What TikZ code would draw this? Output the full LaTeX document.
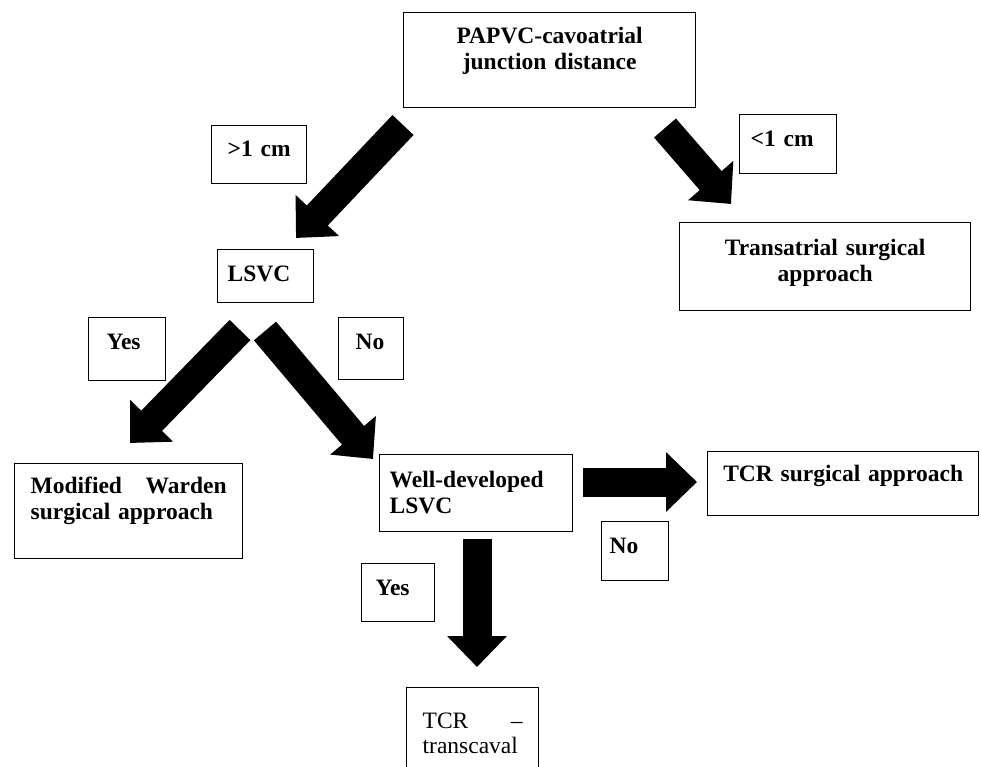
\documentclass[tikz,border=0pt]{standalone}
\usepackage{fontspec}
\setmainfont{Liberation Serif}
\usetikzlibrary{arrows.meta}

\begin{document}
\begin{tikzpicture}[x=1pt,y=-1pt,
  box/.style={draw,line width=1.3pt,anchor=north west,inner ysep=0pt,
              font=\bfseries\fontsize{23.5pt}{26pt}\selectfont},
  bigarr/.style={line width=29pt,-{Triangle[length=31pt,width=58pt]}}]
  \useasboundingbox (0,0) rectangle (981,767);
  \clip (0,0) rectangle (981,767);
  % boxes
  \node[box,inner xsep=10pt,text width=272pt,align=center,text height=31pt,text depth=64pt]
    (papvc) at (403,12) {PAPVC-cavoatrial\\junction distance};
  \node[box,inner xsep=16pt,text width=63pt,align=left,text height=31pt,text depth=27pt]
    (gtone) at (211,125) {>1 cm};
  \node[box,inner xsep=11pt,text width=75pt,align=left,text height=32pt,text depth=27pt]
    (ltone) at (739,114) {<1 cm};
  \node[box,inner xsep=10pt,text width=271pt,align=center,text height=33pt,text depth=55pt]
    (transatrial) at (679,222) {Transatrial surgical\\approach};
  \node[box,inner xsep=10pt,text width=76pt,align=left,text height=32pt,text depth=21pt]
    (lsvc) at (217,249) {LSVC};
  \node[box,inner xsep=18pt,text width=41pt,align=left,text height=32pt,text depth=31pt]
    (yesone) at (88,317) {Yes};
  \node[box,inner xsep=17pt,text width=31pt,align=left,text height=32pt,text depth=30pt]
    (noone) at (338,317) {No};
  \node[box,inner xsep=16pt,text width=196pt,align=left,text height=30pt,text depth=65pt]
    (warden) at (14,463) {Modified\hfill Warden\\surgical approach};
  \node[box,inner xsep=10pt,text width=173pt,align=left,text height=33pt,text depth=44pt]
    (welldev) at (379,454) {Well-developed\\LSVC};
  \node[box,inner xsep=10pt,text width=251pt,align=center,text height=30pt,text depth=34pt]
    (tcr) at (707,451) {TCR surgical approach};
  \node[box,inner xsep=8pt,text width=51pt,align=left,text height=32pt,text depth=27pt]
    (notwo) at (601,521) {No};
  \node[box,inner xsep=14pt,text width=45pt,align=left,text height=32pt,text depth=26pt]
    (yestwo) at (361,563) {Yes};
  \node[box,inner xsep=16pt,text width=100pt,align=left,text height=41pt,text depth=82pt,
        font=\fontsize{23.5pt}{25pt}\selectfont]
    (transcaval) at (406,687) {TCR\hfill –\\transcaval};
  % arrow ends
  \coordinate (gt-s) at (403,125);
  \coordinate (gt-e) at (296,238);
  \coordinate (lt-s) at (665,128);
  \coordinate (lt-e) at (731,204);
  \coordinate (yes-s) at (240,330);
  \coordinate (yes-e) at (130,443);
  \coordinate (no-s) at (265,331);
  \coordinate (no-e) at (373,459);
  \coordinate (side-s) at (583,482);
  \coordinate (side-e) at (697,482);
  \coordinate (down-s) at (477,539);
  \coordinate (down-e) at (477,667);
  \draw[bigarr] (gt-s) -- (gt-e);
  \draw[bigarr] (lt-s) -- (lt-e);
  \draw[bigarr] (yes-s) -- (yes-e);
  \draw[bigarr] (no-s) -- (no-e);
  \draw[bigarr] (side-s) -- (side-e);
  \draw[bigarr] (down-s) -- (down-e);
\end{tikzpicture}
\end{document}
